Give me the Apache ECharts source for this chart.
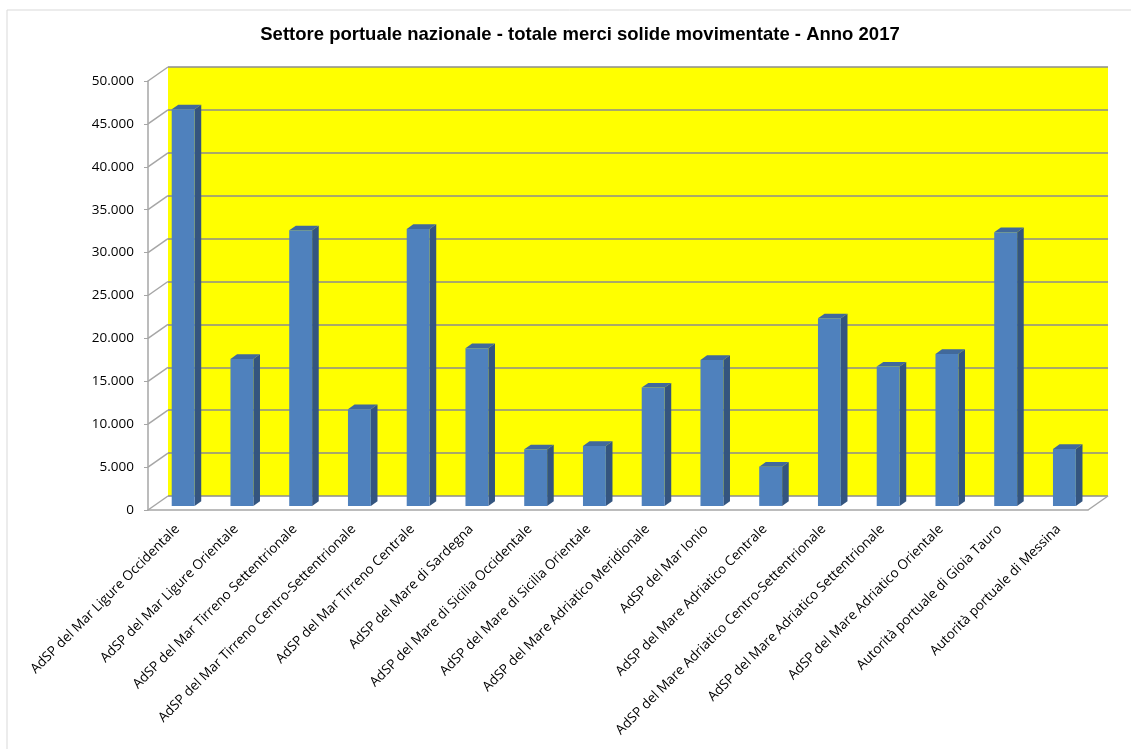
<!DOCTYPE html>
<html>
<head>
<meta charset="utf-8">
<script src="https://cdn.jsdelivr.net/npm/echarts@6/dist/echarts.min.js"></script>
<style>
  html, body { margin: 0; padding: 0; background: #fff; }
  #chart { width: 1131px; height: 749px; }
</style>
</head>
<body>
<div id="chart"></div>
<script>
  // categorie (autorità di sistema portuale)
  const categories = [
    'AdSP del Mar Ligure Occidentale',
    'AdSP del Mar Ligure Orientale',
    'AdSP del Mar Tirreno Settentrionale',
    'AdSP del Mar Tirreno Centro-Settentrionale',
    'AdSP del Mar Tirreno Centrale',
    'AdSP del Mare di Sardegna',
    'AdSP del Mare di Sicilia Occidentale',
    'AdSP del Mare di Sicilia Orientale',
    'AdSP del Mare Adriatico Meridionale',
    'AdSP del Mar Ionio',
    'AdSP del Mare Adriatico Centrale',
    'AdSP del Mare Adriatico Centro-Settentrionale',
    'AdSP del Mare Adriatico Settentrionale',
    'AdSP del Mare Adriatico Orientale',
    'Autorità portuale di Gioia Tauro',
    'Autorità portuale di Messina'
  ];
  // totale merci solide movimentate
  const values = [46230, 17130, 32130, 11270, 32280, 18380, 6600, 6990,
                  13790, 17020, 4580, 21870, 16240, 17720, 31900, 6640];
  const yTicks = [0, 5000, 10000, 15000, 20000, 25000, 30000, 35000, 40000, 45000, 50000];

  const chart = echarts.init(document.getElementById('chart'));

  // profondità "3D" in pixel
  const DX = 20, DY = -14;
  const fmt = v => String(v).replace(/\B(?=(\d{3})+(?!\d))/g, '.');
  const grey = '#a6a6a6';

  const option = {
    animation: false,
    backgroundColor: '#fff',
    title: {
      text: 'Settore portuale nazionale - totale merci solide movimentate - Anno 2017',
      left: 575, top: 20, textAlign: 'center',
      textStyle: { fontFamily: 'Liberation Sans', fontSize: 18.5, fontWeight: 'bold', color: '#000' }
    },
    graphic: [{
      type: 'rect', silent: true, z: -10,
      shape: { x: 7, y: 10, width: 1200, height: 800 },
      style: { fill: 'none', stroke: '#d9d9d9', lineWidth: 1 }
    }],
    grid: [
      // parete di fondo (gialla)
      { left: 148 + DX, right: 43 - DX, top: 81 + DY, bottom: 239 - DY,
        show: true, backgroundColor: '#ffff00', borderWidth: 0 },
      // piano frontale (assi)
      { left: 148, right: 43, top: 81, bottom: 239 }
    ],
    xAxis: [
      { gridIndex: 0, type: 'category', data: categories, show: false },
      { gridIndex: 1, type: 'category', data: categories,
        axisLine: { lineStyle: { color: grey, width: 1.5 } },
        axisTick: { interval: 0, length: 5, lineStyle: { color: grey } },
        axisLabel: { interval: 0, rotate: 45, margin: 17, color: '#000',
          fontFamily: 'Open Sans', fontSize: 13.5 } }
    ],
    yAxis: [
      { gridIndex: 0, type: 'value', min: 0, max: 50000, interval: 5000,
        axisLine: { show: false }, axisTick: { show: false }, axisLabel: { show: false },
        splitLine: { lineStyle: { color: '#8c8c8c', width: 1.5 } } },
      { gridIndex: 1, type: 'value', min: 0, max: 50000, interval: 5000,
        axisLine: { show: true, lineStyle: { color: grey, width: 1.5 } },
        axisTick: { show: true, length: 4, lineStyle: { color: grey } },
        splitLine: { show: false },
        axisLabel: { margin: 14, color: '#000', fontFamily: 'Open Sans', fontSize: 13.5,
          formatter: fmt } }
    ],
    series: [
      {
        // parete sinistra e pavimento
        type: 'custom', xAxisIndex: 1, yAxisIndex: 1, clip: false, silent: true, z: 1,
        data: yTicks.map(v => [0, v]),
        renderItem(params, api) {
          const p = api.coord([0, api.value(1)]);
          const bw = api.size([1, 0])[0];
          const x0 = p[0] - bw / 2;
          const children = [{
            type: 'line',
            shape: { x1: x0, y1: p[1], x2: x0 + DX, y2: p[1] + DY },
            style: { stroke: grey, lineWidth: 1.5 }
          }];
          if (api.value(1) === 0) {
            const pe = api.coord([categories.length - 1, 0]);
            const xe = pe[0] + bw / 2;
            children.push({
              type: 'line',
              shape: { x1: xe, y1: pe[1], x2: xe + DX, y2: pe[1] + DY },
              style: { stroke: grey, lineWidth: 1.5 }
            });
          }
          return { type: 'group', children };
        }
      },
      {
        // barre 3D
        type: 'custom', xAxisIndex: 1, yAxisIndex: 1, clip: false, z: 3,
        data: values.map((v, i) => [i, v]),
        encode: { x: 0, y: 1 },
        renderItem(params, api) {
          const base = api.coord([api.value(0), 0]);
          const top = api.coord([api.value(0), api.value(1)]);
          const bw = api.size([1, 0])[0];
          const w = bw * 0.39;
          const ox = DX * 0.29, oy = DY * 0.29;
          const sx = DX * 0.33, sy = DY * 0.33;
          const x1 = base[0] + ox - w / 2, x2 = x1 + w;
          const yb = base[1] + oy, yt = top[1] + oy;
          return {
            type: 'group',
            children: [
              { type: 'polygon',
                shape: { points: [[x2, yt], [x2 + sx, yt + sy], [x2 + sx, yb + sy], [x2, yb]] },
                style: { fill: '#34557f' } },
              { type: 'polygon',
                shape: { points: [[x1, yt], [x1 + sx, yt + sy], [x2 + sx, yt + sy], [x2, yt]] },
                style: { fill: '#41699b' } },
              { type: 'rect',
                shape: { x: x1, y: yt, width: w, height: yb - yt },
                style: { fill: '#4f81bd' } }
            ]
          };
        }
      }
    ]
  };
  chart.setOption(option);
</script>
</body>
</html>
